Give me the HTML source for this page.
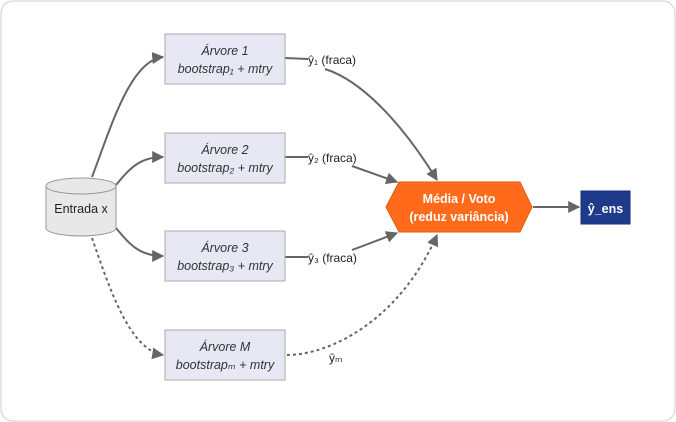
<!DOCTYPE html>
<html><head><meta charset="utf-8"><style>
html,body{margin:0;padding:0;background:#fff;}
svg{display:block;font-family:"Liberation Sans","DejaVu Sans",sans-serif;}
</style></head><body>
<svg width="676" height="422" viewBox="0 0 676 422">
<defs>
<marker id="a" viewBox="0 0 10 10" refX="9" refY="5" markerWidth="6" markerHeight="6" orient="auto"><path d="M0,0 L10,5 L0,10 z" fill="#666"/></marker>
</defs>
<rect x="1" y="1" width="674" height="420" rx="12" fill="#fff" stroke="#ddd" stroke-width="1.5"/>
<g fill="none" stroke="#666" stroke-width="2">
<path d="M92,177 C110,130 130,60 163,57" marker-end="url(#a)"/>
<path d="M116,185 C130,168 140,157 163,157" marker-end="url(#a)"/>
<path d="M116,228 C130,245 140,256 163,256" marker-end="url(#a)"/>
<path d="M92,238 C110,290 130,350 163,355" stroke-dasharray="3,3" marker-end="url(#a)"/>
<path d="M285,58 L308,59"/>
<path d="M325,69 C360,80 400,120 437,180" marker-end="url(#a)"/>
<path d="M285,157 L308,157"/>
<path d="M352,166 L397,182" marker-end="url(#a)"/>
<path d="M285,257 L308,257"/>
<path d="M352,250 L397,233" marker-end="url(#a)"/>
<path d="M287,355 C330,355 400,320 437,235" stroke-dasharray="3,3" marker-end="url(#a)"/>
<path d="M533,207 L579,207" marker-end="url(#a)"/>
</g>
<g fill="#e8e8f4" stroke="#aaa" stroke-width="1">
<rect x="165" y="34" width="120" height="50"/>
<rect x="165" y="133" width="120" height="50"/>
<rect x="165" y="231" width="120" height="50"/>
<rect x="165" y="330" width="120" height="50"/>
</g>
<g font-style="italic" font-size="12.5" fill="#333" text-anchor="middle">
<text x="225" y="55">Árvore 1</text><text x="225" y="73">bootstrap₁ + mtry</text>
<text x="225" y="154">Árvore 2</text><text x="225" y="172">bootstrap₂ + mtry</text>
<text x="225" y="252">Árvore 3</text><text x="225" y="270">bootstrap₃ + mtry</text>
<text x="225" y="351">Árvore M</text><text x="225" y="369">bootstrapₘ + mtry</text>
</g>
<g fill="#e8e8e8" stroke="#999" stroke-width="1">
<path d="M46,186 L46,228 A35,8 0 0 0 116,228 L116,186"/>
<ellipse cx="81" cy="186" rx="35" ry="8"/>
</g>
<text x="81" y="213" font-size="12.5" fill="#222" text-anchor="middle">Entrada x</text>
<g font-size="12" fill="#222">
<text x="308" y="64">ŷ₁ (fraca)</text>
<text x="308" y="162">ŷ₂ (fraca)</text>
<text x="308" y="262">ŷ₃ (fraca)</text>
<text x="329" y="362">ŷₘ</text>
</g>
<polygon points="386,207 399,182 520,182 532,207 520,232 399,232" fill="#ff6b1a" stroke="#e05a10"/>
<text x="459" y="203" font-size="12.5" font-weight="bold" fill="#fff" text-anchor="middle">Média / Voto</text>
<text x="459" y="221" font-size="12.5" font-weight="bold" fill="#fff" text-anchor="middle">(reduz variância)</text>
<rect x="581" y="191" width="49" height="33" fill="#1f3a8a" stroke="#16307a"/>
<text x="605.5" y="213" font-size="12.5" font-weight="bold" fill="#fff" text-anchor="middle">ŷ_ens</text>
</svg>
</body></html>
